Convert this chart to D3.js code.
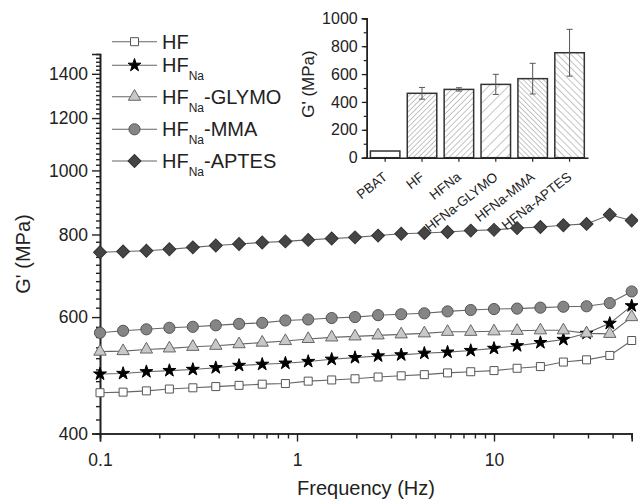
<!DOCTYPE html>
<html>
<head>
<meta charset="utf-8">
<script src="https://cdnjs.cloudflare.com/ajax/libs/d3/7.8.5/d3.min.js"></script>
<style>
  body { margin: 0; background: #fff; }
  svg { font-family: "Liberation Sans", Arial, sans-serif; }
</style>
</head>
<body>
<svg width="638" height="501"></svg>
<script>
"use strict";

/* frequency sweep, Hz */
var freq = [0.1, 0.131, 0.172, 0.225, 0.296, 0.387, 0.508, 0.666, 0.873, 1.14, 1.5, 1.97,
            2.58, 3.38, 4.43, 5.81, 7.62, 10.0, 13.1, 17.2, 22.5, 29.5, 38.7, 50.0];

/* G' (MPa) for each sample */
var gHF     = [461, 462, 464, 467, 469, 471, 473, 475, 476, 480, 482, 484,
               487, 489, 491, 494, 496, 498, 502, 505, 513, 517, 525, 553];
var gNa     = [492, 493, 496, 498, 500, 503, 507, 509, 511, 514, 518, 521,
               524, 526, 529, 531, 534, 538, 543, 549, 555, 567, 587, 624];
var gGlymo  = [532, 533, 536, 538, 541, 543, 546, 549, 552, 556, 559, 561,
               563, 565, 567, 570, 570, 571, 572, 573, 573, 567, 566, 600];
var gMma    = [568, 572, 575, 578, 580, 583, 586, 588, 593, 595, 598, 600,
               604, 606, 608, 612, 615, 617, 618, 620, 622, 623, 630, 656];
var gAptes  = [752, 754, 756, 760, 765, 770, 774, 778, 781, 785, 789, 792,
               797, 802, 804, 807, 811, 813, 818, 821, 826, 830, 857, 840];

var yTicks = [400, 600, 800, 1000, 1200, 1400];
var xTicks = [0.1, 1, 10];

/* inset: G' of each sample */
var barCats = ["PBAT", "HF", "HFNa", "HFNa-GLYMO", "HFNa-MMA", "HFNa-APTES"];
var barVals = [48, 462, 490, 526, 567, 753];
var barErr  = [0, 42, 12, 72, 110, 168];
var barTicks = [0, 200, 400, 600, 800, 1000];

var svg = d3.select("svg");

var x = d3.scaleLog().domain([0.1, 50]).range([100, 631.7]);
var y = d3.scaleLog().domain([400, 1500]).range([433.5, 54]);

/* ---------- main axes ---------- */
var minorY = d3.range(420, 1500, 20).filter(function(d) { return yTicks.indexOf(d) < 0; });
var minorX = [0.2, 0.3, 0.4, 0.5, 0.6, 0.7, 0.8, 0.9, 2, 3, 4, 5, 6, 7, 8, 9, 20, 30, 40, 50];

svg.append("g")
    .attr("transform", "translate(100,0)")
    .call(d3.axisLeft(y).tickValues(minorY).tickSize(4).tickFormat(""));

var yAx = svg.append("g")
    .attr("transform", "translate(100,0)")
    .call(d3.axisLeft(y).tickValues(yTicks).tickSize(8).tickPadding(4).tickFormat(d3.format("d")));

svg.append("g")
    .attr("transform", "translate(0,433.5)")
    .call(d3.axisBottom(x).tickValues(minorX).tickSize(5).tickFormat(""));

var xAx = svg.append("g")
    .attr("transform", "translate(0,433.5)")
    .call(d3.axisBottom(x).tickValues(xTicks).tickSize(8).tickPadding(12)
      .tickFormat(function(d) { return d < 1 ? "0.1" : d3.format("d")(d); }));

svg.selectAll("g").attr("font-family", null);
svg.selectAll(".domain").attr("stroke", "#222").attr("stroke-width", 1.6);
svg.selectAll(".tick line").attr("stroke", "#222").attr("stroke-width", 1.4);
yAx.selectAll("text").attr("font-size", 17.5).attr("fill", "#222");
xAx.selectAll("text").attr("font-size", 17.5).attr("fill", "#222");

svg.append("text")
    .attr("x", 366).attr("y", 495)
    .attr("text-anchor", "middle")
    .attr("font-size", 20).attr("fill", "#222")
    .text("Frequency (Hz)");

svg.append("text")
    .attr("transform", "translate(30,254) rotate(-90)")
    .attr("text-anchor", "middle")
    .attr("font-size", 20).attr("fill", "#222")
    .text("G' (MPa)");

/* ---------- series ---------- */
var series = [
  {vals: gHF,    sym: d3.symbolSquare,   size: 64, rot: 0,  fill: "#fff",    stroke: "#555"},
  {vals: gNa,    sym: d3.symbolStar,     size: 52, rot: 0,  fill: "#000",    stroke: "#000"},
  {vals: gGlymo, sym: d3.symbolTriangle, size: 66, rot: 0,  fill: "#c8c8c8", stroke: "#666"},
  {vals: gMma,   sym: d3.symbolCircle,   size: 98, rot: 0,  fill: "#858585", stroke: "#555"},
  {vals: gAptes, sym: d3.symbolSquare,   size: 84, rot: 45, fill: "#454545", stroke: "#333"}
];

var line = d3.line()
    .x(function(d, i) { return x(freq[i]); })
    .y(function(d) { return y(d); });

series.forEach(function(s) {
  svg.append("path")
      .attr("d", line(s.vals))
      .attr("fill", "none")
      .attr("stroke", "#666")
      .attr("stroke-width", 1.1);

  svg.append("g").selectAll("path")
    .data(s.vals)
    .enter().append("path")
      .attr("transform", function(d, i) {
        return "translate(" + x(freq[i]) + "," + y(d) + ") rotate(" + s.rot + ")"; })
      .attr("d", d3.symbol().type(s.sym).size(s.size))
      .attr("fill", s.fill)
      .attr("stroke", s.stroke)
      .attr("stroke-width", 1);
});

/* ---------- legend ---------- */
var legRows = [41.7, 65.3, 96.7, 129.3, 161];
var legSuffix = ["", "", "-GLYMO", "-MMA", "-APTES"];

var leg = svg.append("g").selectAll("g")
  .data(series)
  .enter().append("g")
    .attr("transform", function(d, i) { return "translate(0," + legRows[i] + ")"; });

leg.append("line")
    .attr("x1", 112).attr("x2", 157)
    .attr("stroke", "#666").attr("stroke-width", 1.1);

leg.append("path")
    .attr("transform", function(d) { return "translate(134.5,0) rotate(" + d.rot + ")"; })
    .attr("d", function(d) { return d3.symbol().type(d.sym).size(d.size)(); })
    .attr("fill", function(d) { return d.fill; })
    .attr("stroke", function(d) { return d.stroke; });

var legText = leg.append("text")
    .attr("x", 162).attr("y", 7)
    .attr("font-size", 20).attr("fill", "#222");

legText.append("tspan").text("HF");
legText.filter(function(d, i) { return i > 0; })
  .append("tspan").attr("font-size", 12).attr("dy", 8).text("Na");
legText.filter(function(d, i) { return i > 1; })
  .append("tspan").attr("dy", -8).text(function(d, i) { return legSuffix[i + 2]; });

/* ---------- inset bar chart ---------- */
var bx = d3.scaleBand().domain(barCats).range([366.7, 588]).paddingInner(0.2).paddingOuter(0.1);
var by = d3.scaleLinear().domain([0, 1000]).range([157.7, 18.3]);

var defs = svg.append("defs");
var hatch = [null, {sp: 3.6, a: 45}, {sp: 4.2, a: 45}, {sp: 7, a: 45}, {sp: 3.6, a: -45}, {sp: 4.8, a: -45}];
hatch.forEach(function(h, i) {
  if (!h) return;
  var p = defs.append("pattern")
      .attr("id", "hatch" + i)
      .attr("patternUnits", "userSpaceOnUse")
      .attr("width", h.sp).attr("height", h.sp)
      .attr("patternTransform", "rotate(" + h.a + ")");
  p.append("rect").attr("width", h.sp).attr("height", h.sp).attr("fill", "#fff");
  p.append("line").attr("x1", 0).attr("y1", 0).attr("x2", 0).attr("y2", h.sp)
      .attr("stroke", "#8a8a8a").attr("stroke-width", 1);
});

var inset = svg.append("g");

var bars = barCats.map(function(c, i) { return {cat: c, val: barVals[i], err: barErr[i], idx: i}; });
var cx = function(d) { return bx(d.cat) + bx.bandwidth() / 2; };

inset.selectAll("rect.bar")
  .data(bars)
  .enter().append("rect")
    .attr("class", "bar")
    .attr("x", function(d) { return bx(d.cat); })
    .attr("y", function(d) { return by(d.val); })
    .attr("width", bx.bandwidth())
    .attr("height", function(d) { return by(0) - by(d.val); })
    .attr("fill", function(d) { return hatch[d.idx] ? "url(#hatch" + d.idx + ")" : "#fff"; })
    .attr("stroke", "#333")
    .attr("stroke-width", 1.5);

var err = inset.selectAll("g.err")
  .data(bars.filter(function(d) { return d.err > 0; }))
  .enter().append("g")
    .attr("class", "err")
    .attr("stroke", "#555").attr("stroke-width", 1);

err.append("line")
    .attr("x1", cx).attr("x2", cx)
    .attr("y1", function(d) { return by(d.val - d.err); })
    .attr("y2", function(d) { return by(d.val + d.err); });
[-1, 1].forEach(function(sgn) {
  err.append("line")
      .attr("x1", function(d) { return cx(d) - 3; })
      .attr("x2", function(d) { return cx(d) + 3; })
      .attr("y1", function(d) { return by(d.val + sgn * d.err); })
      .attr("y2", function(d) { return by(d.val + sgn * d.err); });
});

inset.append("g")
    .attr("transform", "translate(366.7,0)")
    .call(d3.axisLeft(by).ticks(10).tickSize(3).tickFormat(""));

var byAx = inset.append("g")
    .attr("transform", "translate(366.7,0)")
    .call(d3.axisLeft(by).tickValues(barTicks).tickSize(5).tickPadding(4).tickFormat(d3.format("d")));

var bxAx = inset.append("g")
    .attr("transform", "translate(0,157.7)")
    .call(d3.axisBottom(bx).tickSize(4).tickSizeOuter(0));

inset.selectAll("g").attr("font-family", null);
inset.selectAll(".domain").attr("stroke", "#222").attr("stroke-width", 1.5);
inset.selectAll(".tick line").attr("stroke", "#222").attr("stroke-width", 1.2);
byAx.selectAll("text").attr("font-size", 16).attr("fill", "#222");
bxAx.selectAll("text")
    .attr("font-size", 13.5).attr("fill", "#222")
    .attr("text-anchor", "end")
    .attr("x", 0).attr("y", 0).attr("dy", 0)
    .attr("transform", "translate(3,21) rotate(-38)");

inset.append("text")
    .attr("transform", "translate(314,84) rotate(-90)")
    .attr("text-anchor", "middle")
    .attr("font-size", 17).attr("fill", "#222")
    .text("G' (MPa)");
</script>
</body>
</html>
